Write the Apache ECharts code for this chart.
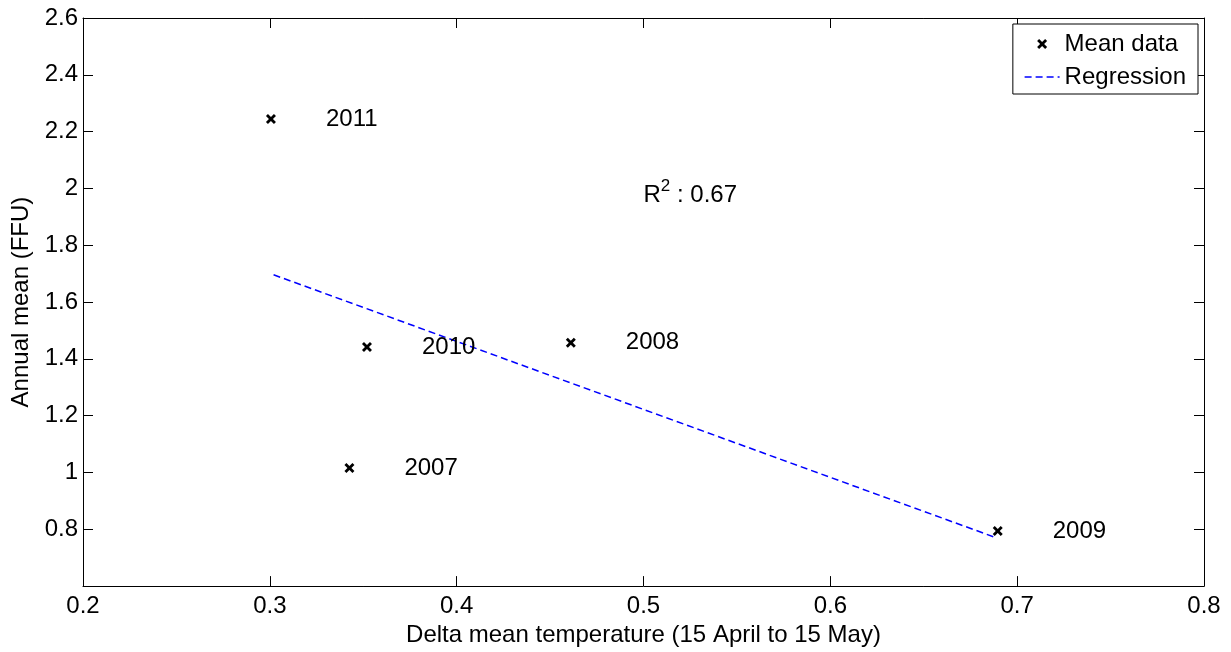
<!DOCTYPE html>
<html>
<head>
<meta charset="utf-8">
<script src="https://cdn.jsdelivr.net/npm/echarts@6/dist/echarts.min.js"></script>
<style>
html,body{margin:0;padding:0;background:#fff;}
#chart{width:1231px;height:652px;}
</style>
</head>
<body>
<div id="chart"></div>
<script>
// ---- data ----
const years = ['2011', '2010', '2008', '2007', '2009'];
const deltaTemp = [0.3006, 0.352, 0.4611, 0.3426, 0.6896];
const annualMean = [2.244, 1.442, 1.457, 1.016, 0.794];
const regressionX = [0.302, 0.6872];
const regressionY = [1.696, 0.774];
const r2Text = '0.67';
const r2Pos = [0.5, 1.985];
const xTicks = { min: 0.2, max: 0.8, step: 0.1 };
const yTicks = { min: 0.6, max: 2.6, step: 0.2 };

const FONT = 'Liberation Sans, Arial, sans-serif';
const FS = 24;
const crossPath = 'path://M0,2L2,0L5,3L8,0L10,2L7,5L10,8L8,10L5,7L2,10L0,8L3,5Z';

const scatterData = deltaTemp.map((x, i) => [x, annualMean[i]]);
const lineData = regressionX.map((x, i) => [x, regressionY[i]]);

const axisCommon = {
  axisLine: { show: true, onZero: false, lineStyle: { color: '#000', width: 1 } },
  axisTick: { show: true, inside: true, length: 10, lineStyle: { color: '#000' } },
  splitLine: { show: false },
  axisLabel: { color: '#000', fontFamily: FONT, fontSize: FS }
};

const chart = echarts.init(document.getElementById('chart'));
chart.setOption({
  animation: false,
  backgroundColor: '#fff',
  textStyle: { fontFamily: FONT },
  grid: { left: 83, right: 27, top: 18, bottom: 60.5, containLabel: false },
  legend: {
    right: 33, top: 24,
    orient: 'vertical',
    backgroundColor: '#fff',
    borderColor: '#000', borderWidth: 1, borderRadius: 0,
    padding: [8, 12, 5, 11],
    itemGap: 9,
    itemWidth: 35, itemHeight: 10,
    textStyle: { color: '#000', fontSize: FS, fontFamily: FONT },
    data: [
      { name: 'Mean data', icon: crossPath, itemStyle: { color: '#000', opacity: 1 } },
      { name: 'Regression', itemStyle: { opacity: 0 }, lineStyle: { color: '#0000ff', width: 1.5, type: [7, 4] } }
    ]
  },
  xAxis: [
    Object.assign({}, axisCommon, {
      type: 'value', position: 'bottom',
      min: xTicks.min, max: xTicks.max, interval: xTicks.step,
      name: 'Delta mean temperature (15 April to 15 May)',
      nameLocation: 'middle', nameGap: 32,
      nameTextStyle: { color: '#000', fontSize: FS, fontFamily: FONT },
      axisLabel: Object.assign({}, axisCommon.axisLabel, { margin: 8 })
    }),
    Object.assign({}, axisCommon, {
      type: 'value', position: 'top',
      min: xTicks.min, max: xTicks.max, interval: xTicks.step,
      axisLabel: { show: false }
    })
  ],
  yAxis: [
    Object.assign({}, axisCommon, {
      type: 'value', position: 'left',
      min: yTicks.min, max: yTicks.max, interval: yTicks.step,
      name: 'Annual mean (FFU)',
      nameLocation: 'middle', nameGap: 49,
      nameTextStyle: { color: '#000', fontSize: FS, fontFamily: FONT },
      axisLabel: Object.assign({}, axisCommon.axisLabel, { margin: 5, showMinLabel: false })
    }),
    Object.assign({}, axisCommon, {
      type: 'value', position: 'right',
      min: yTicks.min, max: yTicks.max, interval: yTicks.step,
      axisLabel: { show: false }
    })
  ],
  series: [
    {
      name: 'Mean data',
      type: 'scatter',
      symbol: crossPath,
      symbolSize: 10,
      itemStyle: { color: '#000', opacity: 1 },
      data: scatterData,
      label: {
        show: true, position: 'right', distance: 50,
        color: '#000', fontSize: FS, fontFamily: FONT,
        formatter: p => years[p.dataIndex]
      },
      z: 3
    },
    {
      name: 'Regression',
      type: 'line',
      symbol: 'none',
      showSymbol: false,
      color: '#0000ff',
      lineStyle: { color: '#0000ff', width: 1.5, type: [7, 4] },
      data: lineData,
      z: 2
    },
    {
      name: 'r2',
      type: 'scatter',
      symbolSize: 0,
      silent: true,
      itemStyle: { opacity: 1 },
      data: [r2Pos],
      label: {
        show: true, position: 'inside', align: 'left', verticalAlign: 'middle',
        formatter: () => '{r|R}{s|2}{r| : ' + r2Text + '}',
        rich: {
          r: { color: '#000', fontSize: FS, fontFamily: FONT, verticalAlign: 'bottom' },
          s: { color: '#000', fontSize: 17, fontFamily: FONT, verticalAlign: 'top', padding: [0, 0, 12, 0] }
        }
      }
    }
  ]
});
</script>
</body>
</html>
